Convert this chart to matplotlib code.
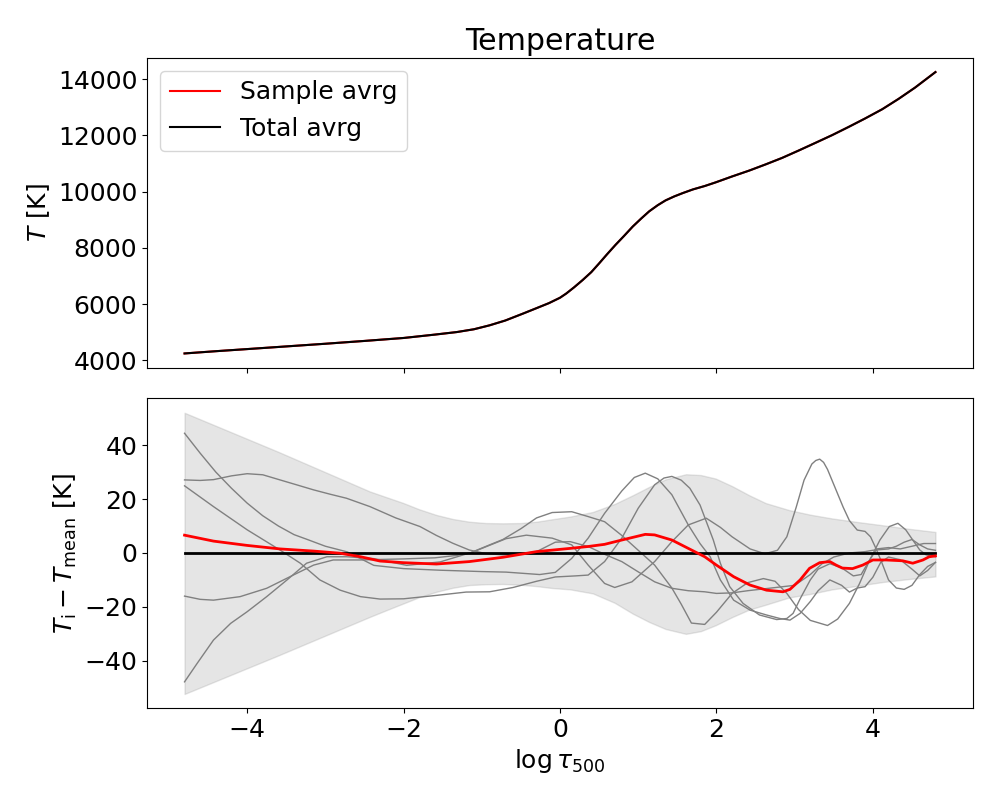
#!/usr/bin/env python3
# -*- coding: utf-8 -*-

import numpy as np
import matplotlib
matplotlib.use('Agg')
import matplotlib.pyplot as plt

plt.rcParams['font.size'] = 18

# mean temperature stratification
tau_T = [-4.8, -4.4, -4.0, -3.5, -3.0, -2.5, -2.0, -1.6, -1.32, -1.1, -0.9,
         -0.7, -0.47, -0.3, -0.14, 0.0, 0.08, 0.18, 0.29, 0.4, 0.5, 0.6,
         0.71, 0.82, 0.93, 1.04, 1.14, 1.25, 1.35, 1.46, 1.57, 1.7, 1.85,
         1.99, 2.2, 2.42, 2.63, 2.84, 3.05, 3.27, 3.48, 3.69, 3.9, 4.12,
         4.33, 4.54, 4.8]
T_total = [4250, 4330, 4405, 4500, 4595, 4695, 4800, 4920, 5010, 5110, 5250,
           5420, 5670, 5860, 6040, 6230, 6380, 6600, 6860, 7140, 7450, 7770,
           8110, 8430, 8760, 9050, 9300, 9520, 9690, 9830, 9950, 10080,
           10200, 10330, 10540, 10750, 10970, 11200, 11460, 11740, 12010,
           12300, 12600, 12930, 13300, 13700, 14250]
T_sample = T_total

# spread band of the deviations
band_x = [-4.8, -3.6, -2.43, -2.2, -2.0, -1.8, -1.58, -1.37, -1.16, -0.95,
          -0.73, -0.5, -0.3, -0.1, 0.13, 0.42, 0.7, 0.93, 1.14, 1.35, 1.61,
          1.8, 1.99, 2.2, 2.42, 2.63, 2.93, 3.2, 3.48, 3.8, 4.12, 4.45, 4.8]
band_hi = [52.0, 37.5, 22.8, 20.5, 18.5, 16.2, 14.1, 12.6, 11.6, 11.1, 11.0,
           11.1, 11.6, 12.5, 13.5, 15.2, 18.2, 21.4, 24.5, 27.3, 29.2, 28.9,
           27.6, 24.8, 21.4, 18.5, 15.9, 14.2, 12.8, 11.5, 10.3, 9.0, 7.8]
band_lo = [-52.3, -38.0, -23.7, -21.0, -18.7, -16.4, -14.4, -12.9, -11.9,
           -11.6, -11.5, -11.8, -12.3, -13.0, -13.5, -15.0, -18.5, -22.5,
           -25.6, -28.2, -30.0, -29.0, -26.8, -23.8, -21.0, -19.2, -16.5,
           -15.2, -13.5, -12.2, -10.8, -9.7, -8.7]

# individual deviations T_i - T_mean
dev1_x = [-4.8, -4.6, -4.4, -4.2, -4.0, -3.8, -3.6, -3.4, -3.23, -3.0, -2.72,
          -2.38, -2.0, -1.53, -1.0, -0.69, -0.26, -0.06, 0.15, 0.36, 0.57,
          0.79, 0.95, 1.09, 1.25, 1.43, 1.64, 1.79, 1.92, 2.05, 2.22, 2.43,
          2.64, 2.81, 2.94, 3.07, 3.2, 3.3, 3.45, 3.6, 3.7, 3.8, 3.9, 4.0,
          4.1, 4.2, 4.35, 4.5, 4.6, 4.7, 4.8]
dev1_y = [44.4, 37.0, 30.0, 24.0, 18.5, 13.8, 10.0, 6.8, 5.0, 2.5, 0.4,
          -4.6, -5.8, -6.4, -6.9, -7.1, -8.0, -7.2, -2.0, 5.5, 14.7, 23.0,
          28.0, 29.6, 27.5, 21.6, 10.4, 3.5, -1.4, -10.0, -17.5, -21.2,
          -23.0, -24.3, -24.9, -22.4, -18.0, -14.0, -10.0, -12.0, -14.5,
          -13.0, -12.5, -9.0, -3.5, -1.5, -2.5, -6.0, -8.5, -6.5, -3.5]

dev2_x = [-4.8, -4.43, -4.0, -3.58, -3.32, -3.07, -2.81, -2.55, -2.3, -2.0,
          -1.6, -1.2, -0.9, -0.6, -0.3, -0.06, 0.2, 0.36, 0.57, 0.79, 1.0,
          1.21, 1.33, 1.43, 1.55, 1.66, 1.79, 1.96, 2.05, 2.17, 2.34, 2.55,
          2.77, 2.9, 2.98, 3.07, 3.2, 3.3, 3.45, 3.6, 3.75, 3.85, 3.95, 4.05,
          4.2, 4.35, 4.5, 4.65, 4.8]
dev2_y = [24.9, 17.2, 8.6, 1.1, -3.8, -10.0, -13.8, -16.2, -17.1, -17.0,
          -15.8, -14.5, -14.4, -12.8, -10.5, -8.9, -8.5, -8.2, -3.2, 5.5,
          16.6, 25.3, 27.8, 28.4, 27.0, 24.0, 17.8, 4.8, -3.8, -12.5, -18.7,
          -23.0, -24.7, -24.3, -22.4, -17.0, -10.0, -6.0, -4.0, -5.5, -8.5,
          -8.0, -3.0, 1.5, 2.0, 1.5, 2.5, 3.5, 3.5]

dev3_x = [-4.8, -4.6, -4.43, -4.2, -4.0, -3.8, -3.58, -3.37, -3.15, -2.94,
          -2.73, -2.43, -2.1, -1.79, -1.58, -1.37, -1.16, -0.95, -0.73,
          -0.5, -0.3, -0.06, 0.13, 0.36, 0.57, 0.79, 1.0, 1.21, 1.43, 1.64,
          1.85, 2.0, 2.2, 2.4, 2.7, 3.0, 3.2, 3.35, 3.5, 3.7, 3.9, 4.0,
          4.2, 4.3, 4.4, 4.5, 4.6, 4.7, 4.8]
dev3_y = [27.1, 26.9, 27.2, 28.6, 29.4, 29.0, 27.1, 25.3, 23.4, 21.8, 20.3,
          17.2, 13.0, 9.8, 6.5, 3.6, 1.1, -0.2, -0.7, -0.3, 0.5, 4.0, 4.2,
          2.4, -0.5, -3.2, -7.0, -10.7, -13.1, -14.0, -14.4, -15.0, -14.8,
          -14.0, -13.0, -12.0, -8.0, -4.0, -1.5, 0.0, 0.5, 1.0, 1.5, 2.5,
          4.0, 5.0, 3.0, 1.5, 1.0]

dev4_x = [-4.8, -4.6, -4.43, -4.09, -3.75, -3.41, -3.15, -2.9, -2.56, -2.3,
          -2.0, -1.6, -1.32, -1.15, -0.9, -0.73, -0.5, -0.3, -0.1, 0.15,
          0.36, 0.57, 0.79, 1.0, 1.21, 1.43, 1.55, 1.68, 1.85, 2.0, 2.2,
          2.4, 2.6, 2.75, 2.9, 3.05, 3.2, 3.42, 3.55, 3.7, 3.83, 3.96, 4.09,
          4.21, 4.32, 4.42, 4.51, 4.6, 4.68, 4.8]
dev4_y = [-16.0, -17.2, -17.5, -16.2, -13.1, -8.2, -4.5, -2.6, -2.6, -2.4,
          -2.2, -1.8, -0.9, 0.0, 3.0, 5.0, 9.0, 13.0, 15.0, 15.3, 13.5, 11.6,
          6.5, 1.0, -4.5, -13.0, -19.0, -26.0, -26.5, -22.0, -15.0, -11.0,
          -9.5, -10.5, -15.0, -21.0, -25.0, -26.9, -24.5, -18.7, -11.3,
          -2.6, 4.8, 9.8, 11.0, 8.6, 4.8, 1.1, -0.7, -1.4]

dev5_x = [-4.8, -4.64, -4.43, -4.21, -4.0, -3.75, -3.49, -3.24, -2.98,
          -2.73, -2.38, -1.96, -1.53, -1.11, -0.69, -0.43, -0.1, 0.15, 0.36,
          0.57, 0.7, 0.92, 1.21, 1.43, 1.64, 1.87, 2.05, 2.2, 2.43, 2.62,
          2.78, 2.9, 3.02, 3.12, 3.22, 3.27, 3.32, 3.37, 3.42, 3.52, 3.62,
          3.7, 3.8, 3.9, 3.97, 4.05, 4.12, 4.2, 4.3, 4.4, 4.5, 4.6, 4.7, 4.8]
dev5_y = [-47.8, -41.0, -32.3, -26.1, -21.8, -16.2, -10.0, -3.8, -1.4,
          -1.4, -2.1, -4.6, -3.3, 0.4, 5.3, 6.6, 5.5, 3.0, -4.5, -11.3,
          -12.8, -10.7, -3.2, 4.2, 10.4, 12.9, 9.5, 6.0, 1.5, -0.3, 1.0,
          6.0, 17.0, 27.0, 33.0, 34.3, 34.8, 33.6, 31.0, 24.0, 17.0, 12.0,
          8.5, 8.0, 6.0, 1.0, -4.0, -10.0, -13.0, -13.5, -12.0, -8.0, -5.0,
          -3.5]

# sample average deviation
avg_x = [-4.8, -4.43, -4.0, -3.58, -3.15, -2.81, -2.55, -2.3, -2.0, -1.58,
         -1.16, -0.73, -0.3, 0.13, 0.36, 0.57, 0.79, 1.09, 1.21, 1.43, 1.64,
         1.85, 2.0, 2.22, 2.43, 2.64, 2.85, 2.94, 3.07, 3.19, 3.32, 3.45,
         3.53, 3.61, 3.74, 3.87, 4.0, 4.17, 4.38, 4.51, 4.64, 4.72, 4.8]
avg_y = [6.6, 4.4, 2.8, 1.5, 0.7, -0.1, -1.4, -3.0, -3.6, -4.1, -3.2, -1.6,
         0.5, 1.7, 2.4, 3.2, 4.8, 6.9, 6.7, 4.8, 1.7, -1.4, -4.5, -8.8,
         -11.9, -13.8, -14.4, -13.5, -10.0, -5.7, -3.6, -3.2, -4.5, -5.6,
         -5.8, -4.5, -2.6, -2.6, -2.9, -3.8, -2.6, -1.4, -1.1]

devs = [(dev1_x, dev1_y), (dev2_x, dev2_y), (dev3_x, dev3_y),
        (dev4_x, dev4_y), (dev5_x, dev5_y)]

fig, (ax1, ax2) = plt.subplots(2, 1, figsize=(10, 8), sharex=True)
fig.subplots_adjust(left=0.147, right=0.973, top=0.9275, bottom=0.115,
                    hspace=0.1)

ax1.plot(tau_T, T_sample, color='red', lw=1.5, label='Sample avrg')
ax1.plot(tau_T, T_total, color='black', lw=1.5, label='Total avrg')
ax1.set_title('Temperature')
ax1.set_ylabel(r'$T$ [K]')
ax1.legend(loc='upper left')

ax2.fill_between(band_x, band_lo, band_hi, color='gray', alpha=0.2)
for dx, dy in devs:
    ax2.plot(dx, dy, color='gray', lw=1)
ax2.plot([tau_T[0], tau_T[-1]], [0, 0], color='black', lw=2)
ax2.plot(avg_x, avg_y, color='red', lw=2)
ax2.set_ylabel(r'$T_\mathrm{i} - T_\mathrm{mean}$ [K]')
ax2.set_xlabel(r'$\log\tau_{500}$')
ax2.set_ylim(-57.5, 57.3)

plt.savefig('out.png', dpi=100)
